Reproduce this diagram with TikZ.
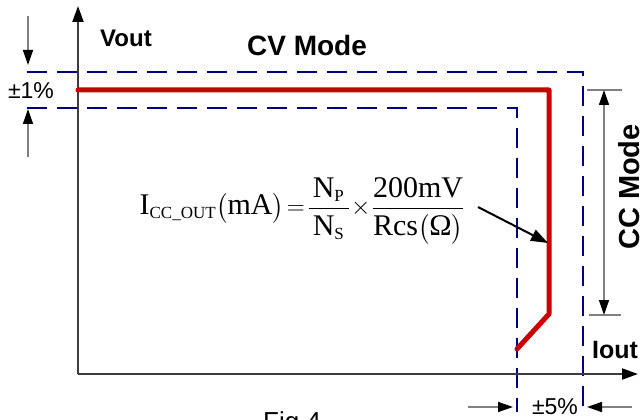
\documentclass[tikz,border=0pt]{standalone}
\usepackage{amsmath}
\usepackage{fontspec}
\setmainfont{Liberation Serif}
\setsansfont{Liberation Sans}
\usetikzlibrary{arrows.meta}
\definecolor{navy}{RGB}{0,0,128}
\definecolor{cvred}{RGB}{200,0,0}
\definecolor{axisgray}{RGB}{60,60,60}
\definecolor{dimgray}{RGB}{128,128,128}
\newcommand{\subtxt}[1]{\text{\fontsize{17}{17}\selectfont #1}}
\tikzset{
  axisline/.style={draw=axisgray,line width=2pt,-{Triangle[length=16pt,width=11pt,color=black]}},
  limitline/.style={draw=navy,line width=2pt,dash pattern=on 20pt off 10pt},
  curveline/.style={draw=cvred,line width=5pt,line join=round,line cap=round},
  dimarrow/.style={draw=dimgray,line width=1.5pt,-{Triangle[length=15pt,width=10pt,color=black]}},
  dimboth/.style={draw=dimgray,line width=1.5pt,{Triangle[length=15pt,width=10pt,color=black]}-{Triangle[length=15pt,width=10pt,color=black]}},
  tickline/.style={draw=dimgray,line width=1.5pt},
  boldlabel/.style={font=\sffamily\bfseries\fontsize{#1}{#1}\selectfont,inner sep=0pt},
  plainlabel/.style={font=\sffamily\fontsize{#1}{#1}\selectfont,inner sep=0pt},
  pointer/.style={draw=black,line width=2pt,-{Triangle[length=17pt,width=12pt]}}
}
\begin{document}
\begin{tikzpicture}[x=1pt,y=-1pt]
\useasboundingbox[fill=white] (0,0) rectangle (641,420);
% coordinates
\coordinate (O) at (78,374);
\coordinate (Ytop) at (78,6);
\coordinate (Xend) at (638,374);
\coordinate (uL) at (27,72);
\coordinate (uC) at (583,72);
\coordinate (uB) at (583,412);
\coordinate (lL) at (27,108);
\coordinate (lC) at (517,108);
\coordinate (lB) at (517,412);
\coordinate (r1) at (78,90);
\coordinate (r2) at (549,90);
\coordinate (r3) at (549,314);
\coordinate (r4) at (517,349);
\coordinate (d1s) at (28,16);
\coordinate (d1e) at (28,65);
\coordinate (d2s) at (28,157);
\coordinate (d2e) at (28,109);
\coordinate (h1s) at (468,407);
\coordinate (h1e) at (513,407);
\coordinate (h2s) at (632,407);
\coordinate (h2e) at (587,407);
\coordinate (ccTop) at (604,90);
\coordinate (ccBot) at (604,315);
\coordinate (t1a) at (587,90);
\coordinate (t1b) at (622,90);
\coordinate (t2a) at (589,315);
\coordinate (t2b) at (621,315);
\coordinate (pS) at (478,207);
\coordinate (pE) at (548,243);

% limits
\draw[limitline] (uL) -- (uC) -- (uB);
\draw[limitline] (lL) -- (lC) -- (lB);
% axes
\draw[axisline] (O) -- (Ytop);
\draw[axisline] (O) -- (Xend);
% curve
\draw[curveline] (r1) -- (r2) -- (r3) -- (r4);
% +-1% dimension
\draw[dimarrow] (d1s) -- (d1e);
\draw[dimarrow] (d2s) -- (d2e);
% +-5% dimension
\draw[dimarrow] (h1s) -- (h1e);
\draw[dimarrow] (h2s) -- (h2e);
% CC mode dimension
\draw[tickline] (t1a) -- (t1b);
\draw[tickline] (t2a) -- (t2b);
\draw[dimboth] (ccTop) -- (ccBot);
% labels
\node[boldlabel=24] (vout) at (126,38) {Vout};
\node[boldlabel=28] (cv) at (307,45) {CV Mode};
\node[boldlabel=29,rotate=90] (cc) at (629,187) {CC Mode};
\node[boldlabel=25] (iout) at (615,350) {Iout};
\node[plainlabel=23] (p1) at (31,91) {±1\%};
\node[plainlabel=23] (p5) at (555,407) {±5\%};
\node[plainlabel=26,anchor=base west] (fig) at (263,430) {Fig.4};
\node[inner sep=0pt,font=\fontsize{30}{30}\selectfont] (formula) at (302,211)
  {$\displaystyle \text{I}_{\subtxt{CC\_OUT}}\bigl(\text{mA}\bigr)\!=\!\frac{\,\text{N}_{\subtxt{P}}\rule[-5pt]{0pt}{1pt}\,}{\,\rule{0pt}{24pt}\text{N}_{\subtxt{S}}\,}\!\times\!\frac{\text{200mV}\rule[-5pt]{0pt}{1pt}}{\rule{0pt}{24pt}\text{Rcs}\bigl(\text{Ω}\bigr)}$};
\draw[pointer] (pS) -- (pE);
\end{tikzpicture}
\end{document}
